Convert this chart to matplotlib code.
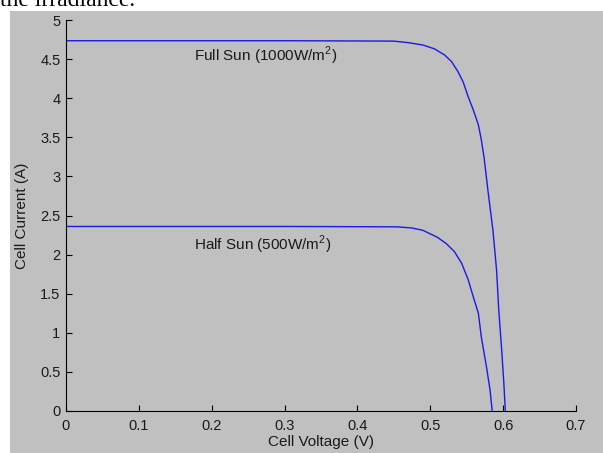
import numpy as np
import matplotlib
matplotlib.use("Agg")
import matplotlib.pyplot as plt
from matplotlib.patches import Rectangle

# I-V curves
full_v = [0.0, 0.30, 0.450, 0.470, 0.490, 0.506, 0.520, 0.529, 0.538, 0.545, 0.552,
          0.559, 0.566, 0.570, 0.574, 0.579, 0.586, 0.591, 0.594, 0.598, 0.601, 0.603]
full_i = [4.735, 4.735, 4.73, 4.71, 4.68, 4.63, 4.55, 4.47, 4.34, 4.21, 4.02,
          3.85, 3.66, 3.47, 3.23, 2.83, 2.31, 1.80, 1.29, 0.78, 0.35, 0.0]
half_v = [0.0, 0.30, 0.455, 0.475, 0.490, 0.510, 0.522, 0.533, 0.543, 0.552, 0.559,
          0.566, 0.570, 0.577, 0.582, 0.585]
half_i = [2.36, 2.36, 2.355, 2.34, 2.31, 2.22, 2.14, 2.04, 1.89, 1.68, 1.46,
          1.25, 0.95, 0.57, 0.27, 0.0]

xticks = [0, 0.1, 0.2, 0.3, 0.4, 0.5, 0.6, 0.7]
yticks = [0, 0.5, 1, 1.5, 2, 2.5, 3, 3.5, 4, 4.5, 5]

gray = '#c0c0c0'
plt.rcParams['font.family'] = ['Liberation Sans', 'DejaVu Sans']
plt.rcParams['mathtext.fontset'] = 'custom'
plt.rcParams['mathtext.rm'] = 'Liberation Sans'

fig = plt.figure(figsize=(6.03, 4.53), dpi=100, facecolor='white')
fig.patches.append(Rectangle((10/603, 0), 1, 1 - 11/453, transform=fig.transFigure,
                             facecolor=gray, edgecolor='none', zorder=-10))
fig.text(0.0, 1 - 6/453, 'the irradiance.', family='Liberation Serif', fontsize=17,
         va='baseline', ha='left')

ax = fig.add_axes([66/603, 42/453, 510/603, 391/453])
ax.set_facecolor(gray)
ax.plot(full_v, full_i, color='#1a1ae6', lw=1.0)
ax.plot(half_v, half_i, color='#1a1ae6', lw=1.0)

ax.text(0.175, 4.48, 'Full Sun (1000W/m$^\\mathregular{2}$)', fontsize=11, va='baseline',
        color='#1a1a1a')
ax.text(0.175, 2.06, 'Half Sun (500W/m$^\\mathregular{2}$)', fontsize=11, va='baseline',
        color='#1a1a1a')

ax.set_xlim(0, 0.7)
ax.set_ylim(0, 5)
ax.set_xticks(xticks)
ax.set_yticks(yticks)
ax.set_xticklabels([str(t) for t in xticks])
ax.set_yticklabels([str(t) for t in yticks])
ax.tick_params(direction='in', length=4, labelsize=10.5, width=0.8, labelcolor='#1a1a1a')
ax.tick_params(axis='x', pad=6)
ax.tick_params(axis='y', pad=4)
ax.spines['top'].set_visible(False)
ax.spines['right'].set_visible(False)
ax.set_xlabel('Cell Voltage (V)', fontsize=11, color='#1a1a1a')
ax.set_ylabel('Cell Current (A)', fontsize=11, color='#1a1a1a')
ax.xaxis.set_label_coords(0.5, (411 - 435) / 391)
ax.yaxis.set_label_coords((29 - 66) / 510, 0.5)

fig.savefig('out.png', dpi=100, facecolor='white')
